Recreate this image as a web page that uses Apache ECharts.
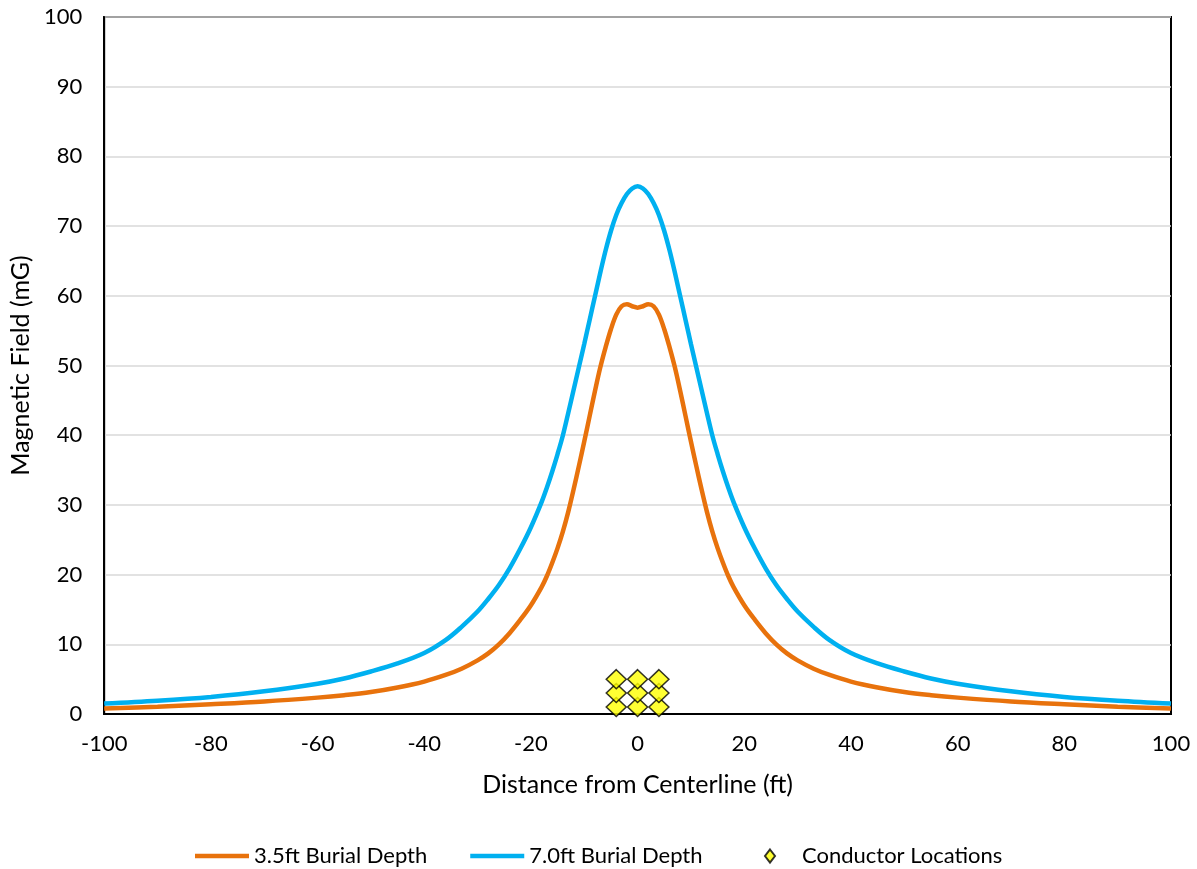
<!DOCTYPE html>
<html>
<head>
<meta charset="utf-8">
<script src="https://cdn.jsdelivr.net/npm/echarts@6/dist/echarts.min.js"></script>
<style>
  html, body { margin: 0; padding: 0; background: #fff; }
  #chart { width: 1197px; height: 869px; }
</style>
</head>
<body>
<div id="chart"></div>
<script>
// distance from centerline (ft)
const distances = [-100, -90, -80, -70, -60, -55, -50, -45, -40, -36, -33, -30, -28, -26, -24, -22, -20, -18, -17, -16, -15,
  -14, -13, -12, -11, -10, -9, -8, -7, -6, -5, -4, -3, -2, -1, 0, 1, 2, 3, 4, 5, 6, 7, 8, 9, 10, 11, 12, 13, 14,
  15, 16, 17, 18, 20, 22, 24, 26, 28, 30, 33, 36, 40, 45, 50, 55, 60, 70, 80, 90, 100];

// 3.5ft burial depth (mG)
const depth35 = [0.8, 1.05, 1.4, 1.8, 2.35, 2.7, 3.15, 3.8, 4.65, 5.6, 6.5, 7.7, 8.7, 10.0, 11.6, 13.5, 15.6, 18.2, 19.8, 21.7, 23.8,
  26.2, 29.0, 32.2, 35.6, 39.1, 42.7, 46.3, 49.7, 52.6, 55.2, 57.3, 58.5, 58.8, 58.5, 58.3, 58.5, 58.8, 58.5, 57.3, 55.2, 52.6, 49.7, 46.3, 42.7, 39.1, 35.6, 32.2, 29.0, 26.2,
  23.8, 21.7, 19.8, 18.2, 15.6, 13.5, 11.6, 10.0, 8.7, 7.7, 6.5, 5.6, 4.65, 3.8, 3.15, 2.7, 2.35, 1.8, 1.4, 1.05, 0.8];

// 7.0ft burial depth (mG)
const depth70 = [1.5, 1.9, 2.45, 3.25, 4.35, 5.1, 6.1, 7.25, 8.75, 10.6, 12.5, 14.7, 16.5, 18.5, 20.9, 23.7, 26.8, 30.4, 32.5, 34.8, 37.3,
  40.0, 43.2, 46.5, 49.8, 53.1, 56.5, 59.9, 63.3, 66.5, 69.3, 71.6, 73.3, 74.6, 75.4, 75.7, 75.4, 74.6, 73.3, 71.6, 69.3, 66.5, 63.3, 59.9, 56.5, 53.1, 49.8, 46.5, 43.2, 40.0,
  37.3, 34.8, 32.5, 30.4, 26.8, 23.7, 20.9, 18.5, 16.5, 14.7, 12.5, 10.6, 8.75, 7.25, 6.1, 5.1, 4.35, 3.25, 2.45, 1.9, 1.5];

// conductor locations
const conductorX = [-4, 0, 4, -4, 0, 4, -4, 0, 4];
const conductorY = [1, 1, 1, 3, 3, 3, 5, 5, 5];

const toPairs = (xs, ys) => xs.map((x, i) => [x, ys[i]]);

const chart = echarts.init(document.getElementById('chart'));
const font = 'Lato, "Open Sans", sans-serif';
const diamondIcon = 'path://M10,0 L20,13 L10,26 L0,13 Z';
const lineIcon = 'path://M0,0 L54,0 L54,4.5 L0,4.5 Z';

const legendBase = {
  top: 840,
  itemWidth: 54,
  itemHeight: 13,
  itemGap: 43,
  symbolKeepAspect: true,
  textStyle: { fontSize: 22, fontFamily: font, color: '#000' }
};

const option = {
  animation: false,
  textStyle: { fontFamily: font, color: '#000' },
  grid: {
    left: 103, right: 26, top: 17, bottom: 155,
    show: true, borderColor: '#000', borderWidth: 2, backgroundColor: '#fff'
  },
  legend: [
    Object.assign({}, legendBase, {
      left: 190,
      data: [
        { name: '3.5ft Burial Depth', icon: lineIcon },
        { name: '7.0ft Burial Depth', icon: lineIcon }
      ]
    }),
    Object.assign({}, legendBase, {
      left: 759,
      data: [{ name: 'Conductor Locations', icon: diamondIcon }]
    })
  ],
  xAxis: {
    type: 'value',
    min: -100, max: 100, interval: 20,
    name: 'Distance from Centerline (ft)',
    nameLocation: 'middle',
    nameGap: 58,
    nameTextStyle: { fontSize: 25, color: '#000' },
    axisLine: { show: true, onZero: false, lineStyle: { color: '#000', width: 2 } },
    axisTick: { show: false },
    axisLabel: { fontSize: 22, color: '#000', margin: 19 },
    splitLine: { show: false }
  },
  yAxis: {
    type: 'value',
    min: 0, max: 100, interval: 10,
    name: 'Magnetic Field (mG)',
    nameLocation: 'middle',
    nameGap: 68,
    nameTextStyle: { fontSize: 25, color: '#000' },
    axisLine: { show: true, onZero: false, lineStyle: { color: '#000', width: 2 } },
    axisTick: { show: false },
    axisLabel: { fontSize: 22, color: '#000', margin: 22 },
    splitLine: { show: true, lineStyle: { color: '#d9d9d9', width: 1.5 } }
  },
  series: [
    {
      name: '3.5ft Burial Depth',
      type: 'line',
      data: toPairs(distances, depth35),
      smooth: 0.35,
      symbol: 'none',
      color: '#E8720C',
      lineStyle: { width: 4.5, color: '#E8720C' }
    },
    {
      name: '7.0ft Burial Depth',
      type: 'line',
      data: toPairs(distances, depth70),
      smooth: 0.35,
      symbol: 'none',
      color: '#00B0F0',
      lineStyle: { width: 4.5, color: '#00B0F0' }
    },
    {
      name: 'Conductor Locations',
      type: 'scatter',
      data: toPairs(conductorX, conductorY),
      symbol: 'diamond',
      symbolSize: [20, 19],
      z: 5,
      itemStyle: { color: '#FFFF00', borderColor: '#000', borderWidth: 1.5 }
    }
  ]
};

chart.setOption(option);
</script>
</body>
</html>
